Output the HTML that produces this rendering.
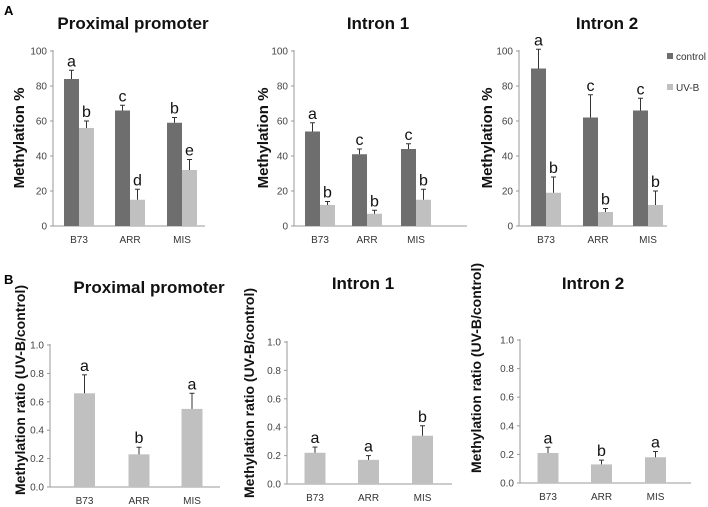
<!DOCTYPE html>
<html><head><meta charset="utf-8"><style>
body{margin:0;background:#fff}
svg{display:block;font-family:"Liberation Sans",sans-serif}
</style></head><body>
<svg id="fig" width="708" height="507" viewBox="0 0 708 507">
<text x="4" y="15" font-size="13" font-weight="bold">A</text>
<text x="4" y="284" font-size="13" font-weight="bold">B</text>
<g>
<rect x="667" y="53" width="6" height="6" fill="#6e6e6e"/>
<text x="676" y="60" font-size="10" fill="#333">control</text>
<rect x="667" y="84" width="6" height="6" fill="#c0c0c0"/>
<text x="676" y="91" font-size="10" fill="#333">UV-B</text>
</g>
</svg>
<script>
const categories = ["B73","ARR","MIS"];
const a1Control = [84,66,59], a1ControlErr = [5,3,3], a1Uvb = [56,15,32], a1UvbErr = [4,6,6];
const a1CtrlLetters = ["a","c","b"], a1UvbLetters = ["b","d","e"];
const a2Control = [54,41,44], a2ControlErr = [5,3,3], a2Uvb = [12,7,15], a2UvbErr = [2,2,6];
const a2CtrlLetters = ["a","c","c"], a2UvbLetters = ["b","b","b"];
const a3Control = [90,62,66], a3ControlErr = [11,13,7], a3Uvb = [19,8,12], a3UvbErr = [9,2,8];
const a3CtrlLetters = ["a","c","c"], a3UvbLetters = ["b","b","b"];
const b1Ratio = [0.66,0.23,0.55], b1Err = [0.13,0.05,0.11], b1Letters = ["a","b","a"];
const b2Ratio = [0.22,0.17,0.34], b2Err = [0.04,0.03,0.07], b2Letters = ["a","a","b"];
const b3Ratio = [0.21,0.13,0.18], b3Err = [0.04,0.03,0.04], b3Letters = ["a","b","a"];
const pctTicks = [0,20,40,60,80,100];
const ratioTicks = ["0.0","0.2","0.4","0.6","0.8","1.0"];

const NS="http://www.w3.org/2000/svg", svg=document.getElementById('fig');
function el(tag,attrs,parent,text){const e=document.createElementNS(NS,tag);for(const k in attrs)e.setAttribute(k,attrs[k]);if(text!==undefined)e.textContent=text;(parent||svg).appendChild(e);return e;}

function panel(cfg){
  const g=el('g',{});
  
  
  const y=v=>cfg.y0-(v-cfg.min)/(cfg.max-cfg.min)*(cfg.y0-cfg.y1);
  const t=el('text',{x:cfg.tx,y:cfg.ty,'font-size':17,'font-weight':'bold','text-anchor':'middle',fill:'#111'},g,cfg.title);
  
  
  const yt=el('text',{x:0,y:0,'font-size':cfg.ytSize,'font-weight':'bold','text-anchor':'middle',fill:'#111',transform:`translate(${cfg.ytx},${cfg.yty}) rotate(-90)`},g,cfg.ytitle);
  
  
  const ax=el('line',{x1:cfg.ax,x2:cfg.ax,y1:cfg.y1-1,y2:cfg.y0,stroke:'#999','stroke-width':1},g);
  
  
  const xa=el('line',{x1:cfg.ax,x2:cfg.axEnd,y1:cfg.y0,y2:cfg.y0,stroke:'#999','stroke-width':1},g);
  
  
  cfg.ticks.forEach((tk,i)=>{
    const v=cfg.min+i*(cfg.max-cfg.min)/(cfg.ticks.length-1);
    el('line',{x1:cfg.ax-3,x2:cfg.ax,y1:y(v),y2:y(v),stroke:'#999'},g);
    const tl=el('text',{x:cfg.ax-6,y:y(v)+3.5,'font-size':10,'text-anchor':'end',fill:'#444'},g,tk);
    
    
  });
  categories.forEach((c,i)=>{
    const cx=cfg.cats[i];
    const cl=el('text',{x:cx,y:cfg.y0+17,'font-size':10,'text-anchor':'middle',fill:'#333'},g,c);
    
    
    cfg.series.forEach((s,j)=>{
      const x0=cx+s.off, v=s.vals[i], e=s.err[i];
      const r=el('rect',{x:x0,y:y(v),width:cfg.bw,height:cfg.y0-y(v),fill:s.color},g);
      
      
      const mx=x0+cfg.bw/2;
      el('line',{x1:mx,x2:mx,y1:y(v),y2:y(v+e),stroke:'#333','stroke-width':1},g);
      el('line',{x1:mx-2.5,x2:mx+2.5,y1:y(v+e),y2:y(v+e),stroke:'#333','stroke-width':1},g);
      const lt=el('text',{x:mx,y:y(v+e)-4,'font-size':16,'text-anchor':'middle',fill:'#111'},g,s.letters[i]);
      
      
    });
  });
}
const dark='#6e6e6e', light='#c0c0c0';
panel({name:'chart-a-proximal-promoter',title:'Proximal promoter',tx:133,ty:29,ytitle:'Methylation %',ytSize:15,ytx:24,yty:138,
  ax:53,axEnd:205,y0:226,y1:51,min:0,max:100,ticks:pctTicks,cats:[79,130,182],bw:15,
  series:[{key:'control',off:-15,vals:a1Control,err:a1ControlErr,letters:a1CtrlLetters,color:dark},
          {key:'uvb',off:0,vals:a1Uvb,err:a1UvbErr,letters:a1UvbLetters,color:light}]});
panel({name:'chart-a-intron-1',title:'Intron 1',tx:378,ty:29,ytitle:'Methylation %',ytSize:15,ytx:268,yty:138,
  ax:294,axEnd:467,y0:226,y1:51,min:0,max:100,ticks:pctTicks,cats:[320,367,416],bw:15,
  series:[{key:'control',off:-15,vals:a2Control,err:a2ControlErr,letters:a2CtrlLetters,color:dark},
          {key:'uvb',off:0,vals:a2Uvb,err:a2UvbErr,letters:a2UvbLetters,color:light}]});
panel({name:'chart-a-intron-2',title:'Intron 2',tx:607,ty:29,ytitle:'Methylation %',ytSize:15,ytx:492,yty:138,
  ax:519,axEnd:667,y0:226,y1:51,min:0,max:100,ticks:pctTicks,cats:[546,598,648],bw:15,
  series:[{key:'control',off:-15,vals:a3Control,err:a3ControlErr,letters:a3CtrlLetters,color:dark},
          {key:'uvb',off:0,vals:a3Uvb,err:a3UvbErr,letters:a3UvbLetters,color:light}]});
panel({name:'chart-b-proximal-promoter',title:'Proximal promoter',tx:149,ty:293,ytitle:'Methylation ratio (UV-B/control)',ytSize:14,ytx:25,yty:390,
  ax:50,axEnd:220,y0:487,y1:345,min:0,max:1,ticks:ratioTicks,cats:[84.5,139,192],bw:21,
  series:[{key:'ratio',off:-10.5,vals:b1Ratio,err:b1Err,letters:b1Letters,color:light}]});
panel({name:'chart-b-intron-1',title:'Intron 1',tx:363,ty:289,ytitle:'Methylation ratio (UV-B/control)',ytSize:14,ytx:254,yty:393,
  ax:287,axEnd:452,y0:484,y1:342,min:0,max:1,ticks:ratioTicks,cats:[315,368.5,422.5],bw:21,
  series:[{key:'ratio',off:-10.5,vals:b2Ratio,err:b2Err,letters:b2Letters,color:light}]});
panel({name:'chart-b-intron-2',title:'Intron 2',tx:593,ty:289,ytitle:'Methylation ratio (UV-B/control)',ytSize:14,ytx:481,yty:368,
  ax:520,axEnd:691,y0:483,y1:340,min:0,max:1,ticks:ratioTicks,cats:[548,601.5,655.5],bw:21,
  series:[{key:'ratio',off:-10.5,vals:b3Ratio,err:b3Err,letters:b3Letters,color:light}]});
</script>
</body></html>
